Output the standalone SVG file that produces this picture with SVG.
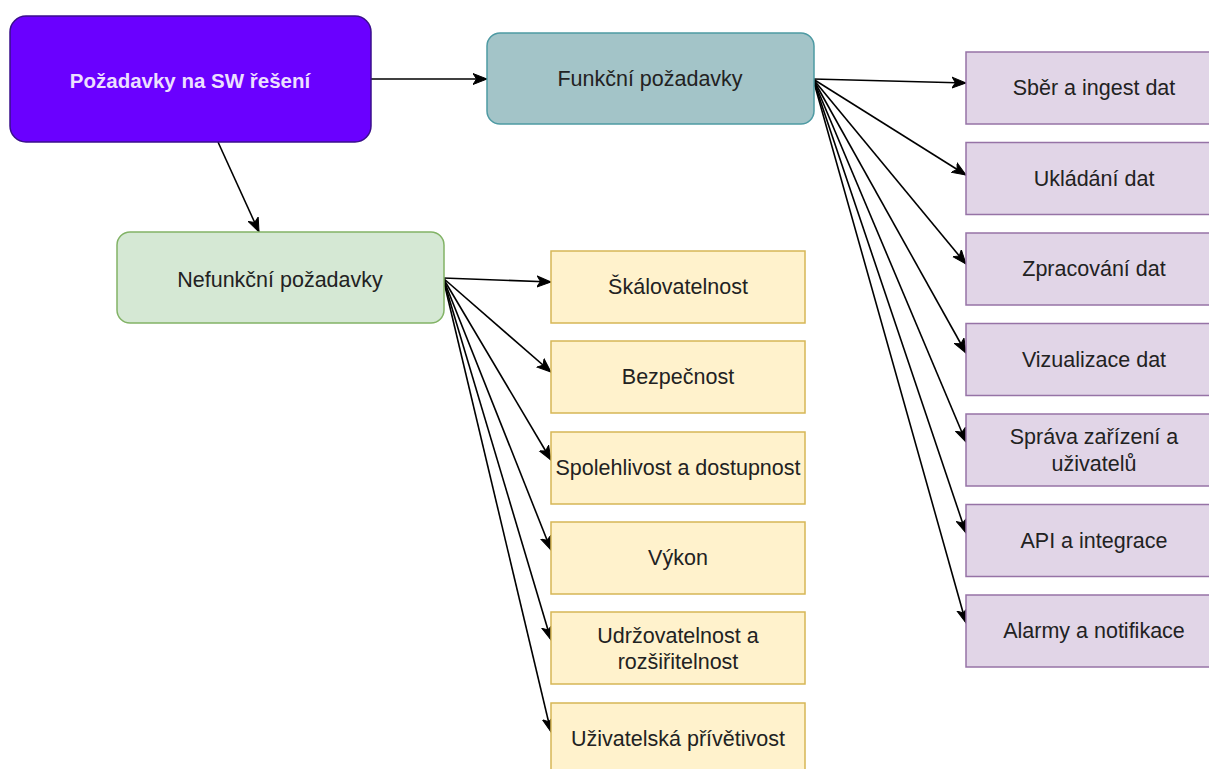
<svg xmlns="http://www.w3.org/2000/svg" width="1209" height="769" viewBox="0 0 1209 769">
<style>
text{font-family:"Liberation Sans",Arial,sans-serif;font-size:21.5px;fill:#222;text-anchor:middle;dominant-baseline:central}
.root rect{fill:#6a00ff;stroke:#3a0f8c;stroke-width:1.5}
.root text{fill:#ecdfff;font-weight:bold;font-size:20.5px}
.fun rect{fill:#a3c4c8;stroke:#4e9aa3;stroke-width:1.5}
.nef rect{fill:#d5e8d4;stroke:#82b366;stroke-width:1.5}
.pur rect{fill:#e1d5e7;stroke:#9673a6;stroke-width:1.5}
.yel rect{fill:#fff2cc;stroke:#d6b656;stroke-width:1.5}
.conn line{stroke:#000;stroke-width:1.6;marker-end:url(#arr)}
</style>
<defs>
<marker id="arr" markerUnits="userSpaceOnUse" markerWidth="16" markerHeight="14" refX="14" refY="7" orient="auto" viewBox="0 0 16 14">
<path d="M0,1.5 L14,7 L0,12.5 L3.5,7 Z" fill="#000" stroke="#000" stroke-width="1"/>
</marker>
</defs>
<g id="connectors" class="conn">
<line x1="371" y1="79" x2="487" y2="79"/>
<line x1="218" y1="142" x2="259" y2="232"/>
<line x1="813" y1="79" x2="966" y2="83"/>
<line x1="813" y1="79" x2="966" y2="175"/>
<line x1="813" y1="79" x2="966" y2="264"/>
<line x1="813" y1="79" x2="966" y2="353"/>
<line x1="813" y1="79" x2="966" y2="442"/>
<line x1="813" y1="79" x2="966" y2="533"/>
<line x1="813" y1="79" x2="966" y2="623"/>
<line x1="443" y1="278" x2="551" y2="282"/>
<line x1="443" y1="278" x2="551" y2="372"/>
<line x1="443" y1="278" x2="551" y2="460"/>
<line x1="443" y1="278" x2="551" y2="550"/>
<line x1="443" y1="278" x2="551" y2="640"/>
<line x1="443" y1="278" x2="551" y2="732"/>
</g>
<g id="root" class="root"><rect x="10" y="16" width="361" height="126" rx="16"/><text x="190" y="80">Požadavky na SW řešení</text></g>
<g id="funkcni" class="fun"><rect x="487" y="33" width="327" height="91" rx="13"/><text x="650" y="79">Funkční požadavky</text></g>
<g id="nefunkcni" class="nef"><rect x="117" y="232" width="327" height="91" rx="13"/><text x="280" y="280">Nefunkční požadavky</text></g>
<g id="sber" class="pur"><rect x="966" y="52" width="256" height="72"/><text x="1094" y="88">Sběr a ingest dat</text></g>
<g id="ukladani" class="pur"><rect x="966" y="142.5" width="256" height="72"/><text x="1094" y="178.5">Ukládání dat</text></g>
<g id="zpracovani" class="pur"><rect x="966" y="233" width="256" height="72"/><text x="1094" y="269">Zpracování dat</text></g>
<g id="vizualizace" class="pur"><rect x="966" y="323.5" width="256" height="72"/><text x="1094" y="359.5">Vizualizace dat</text></g>
<g id="sprava" class="pur"><rect x="966" y="414" width="256" height="72"/><text x="1094" y="437">Správa zařízení a</text><text x="1094" y="464">uživatelů</text></g>
<g id="api" class="pur"><rect x="966" y="504.5" width="256" height="72"/><text x="1094" y="540.5">API a integrace</text></g>
<g id="alarmy" class="pur"><rect x="966" y="595" width="256" height="72"/><text x="1094" y="631">Alarmy a notifikace</text></g>
<g id="skalovatelnost" class="yel"><rect x="551" y="251" width="254" height="72"/><text x="678" y="287">Škálovatelnost</text></g>
<g id="bezpecnost" class="yel"><rect x="551" y="341" width="254" height="72"/><text x="678" y="377">Bezpečnost</text></g>
<g id="spolehlivost" class="yel"><rect x="551" y="432" width="254" height="72"/><text x="678" y="468">Spolehlivost a dostupnost</text></g>
<g id="vykon" class="yel"><rect x="551" y="522" width="254" height="72"/><text x="678" y="558">Výkon</text></g>
<g id="udrzovatelnost" class="yel"><rect x="551" y="612" width="254" height="72"/><text x="678" y="636">Udržovatelnost a</text><text x="678" y="662">rozšiřitelnost</text></g>
<g id="uzivatelska" class="yel"><rect x="551" y="703" width="254" height="72"/><text x="678" y="739">Uživatelská přívětivost</text></g>
</svg>
